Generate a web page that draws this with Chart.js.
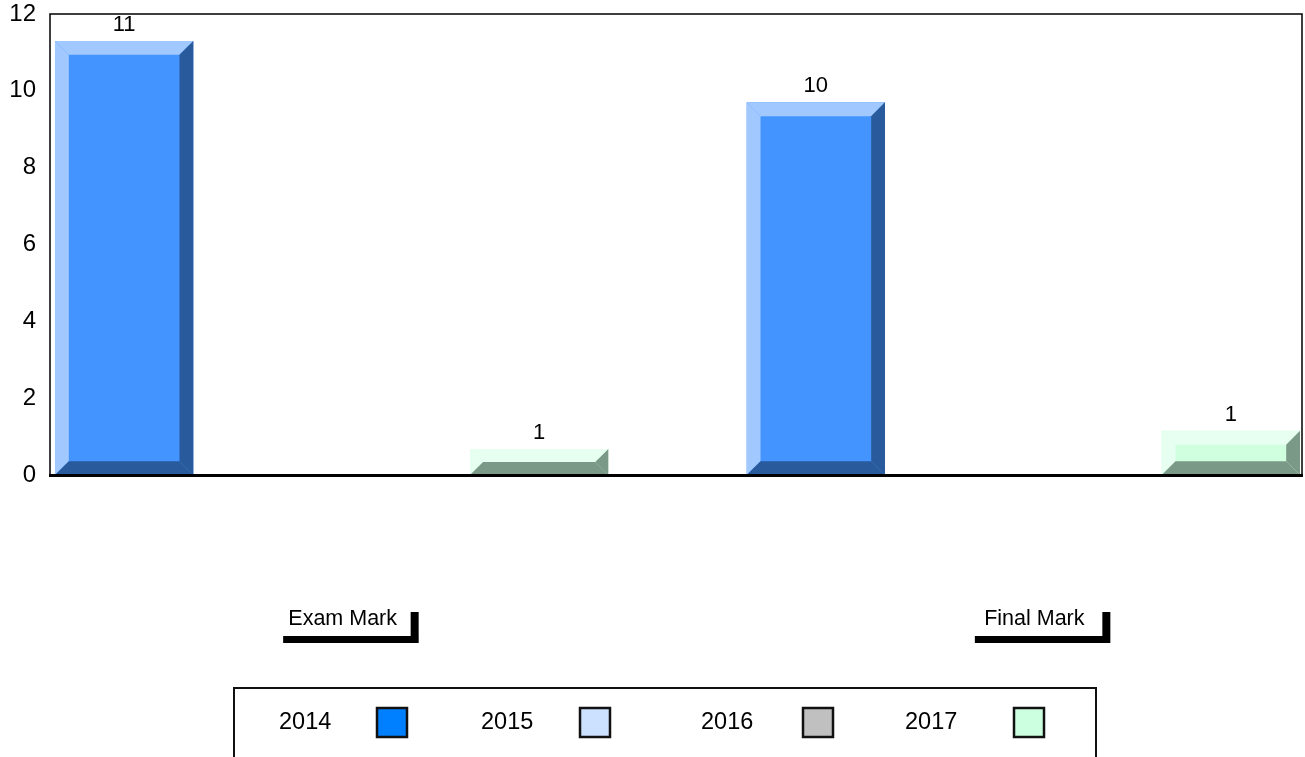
<!DOCTYPE html>
<html>
<head>
<meta charset="utf-8">
<script src="https://cdn.jsdelivr.net/npm/chart.js@4.4.0/dist/chart.umd.min.js"></script>
<style>
html, body { margin: 0; padding: 0; background: #fff; }
#wrap { width: 1305px; height: 757px; position: relative; overflow: hidden; }
</style>
</head>
<body>
<div id="wrap"><canvas id="marksChart"></canvas></div>
<script>
"use strict";

const categories = ["Exam Mark", "Final Mark"];
const years = ["2014", "2015", "2016", "2017"];
const marks2014 = [11.3, 9.7];
const marks2015 = [0, 0];
const marks2016 = [0, 0];
const marks2017 = [0.68, 1.15];
const yTicks = [0, 2, 4, 6, 8, 10, 12];

// face / light bevel / dark bevel colours per year, plus the legend swatch colour
const faceColors = ["#4494ff", "#cce0ff", "#c0c0c0", "#d0ffe0"];
const lightEdges = ["#a2c9ff", "#e6f0ff", "#e0e0e0", "#e6fff0"];
const darkEdges = ["#295b9c", "#7a8699", "#737373", "#7a9986"];
const legendColors = ["#0080ff", "#cce0ff", "#c0c0c0", "#ccffe0"];

const FONT = "'Liberation Sans', Arial, sans-serif";

function text(ctx, str, x, y, size, align) {
	ctx.save();
	ctx.font = size + "px " + FONT;
	ctx.fillStyle = "#000";
	ctx.textAlign = align;
	ctx.textBaseline = "middle";
	ctx.fillText(str, x, y);
	ctx.restore();
}

function poly(ctx, color, pts) {
	ctx.beginPath();
	ctx.moveTo(pts[0][0], pts[0][1]);
	for (let i = 1; i < pts.length; i++) ctx.lineTo(pts[i][0], pts[i][1]);
	ctx.closePath();
	ctx.fillStyle = color;
	ctx.fill();
}

// the original lays its two categories out wider than the plot frame,
// so the x scale is stretched past the canvas after layout
const wideCategories = {
	id: "wideCategories",
	afterLayout(chart) {
		const x = chart.scales.x;
		x.left = -14.2;
		x.right = 1369.2;
		x.width = x.right - x.left;
		x.configure();
	}
};

const bevelBars = {
	id: "bevelBars",
	afterDatasetsDraw(chart) {
		const ctx = chart.ctx;
		chart.data.datasets.forEach((ds, i) => {
			const meta = chart.getDatasetMeta(i);
			meta.data.forEach((bar, j) => {
				const {x, y, base, width} = bar.getProps(["x", "y", "base", "width"], true);
				const h = base - y;
				if (h <= 0) return;
				const x0 = x - width / 2, x1 = x + width / 2;
				const b = Math.min(width * 0.1, h / 2);
				poly(ctx, lightEdges[i], [[x0, y], [x1, y], [x1 - b, y + b], [x0 + b, y + b]]);
				poly(ctx, lightEdges[i], [[x0, y], [x0 + b, y + b], [x0 + b, base - b], [x0, base]]);
				poly(ctx, darkEdges[i], [[x1, y], [x1, base], [x1 - b, base - b], [x1 - b, y + b]]);
				poly(ctx, darkEdges[i], [[x0, base], [x1, base], [x1 - b, base - b], [x0 + b, base - b]]);
				text(ctx, String(Math.round(ds.data[j])), x, y - 16, 22, "center");
			});
		});
	}
};

const frameAndLabels = {
	id: "frameAndLabels",
	afterDraw(chart) {
		const ctx = chart.ctx;
		const area = chart.chartArea;
		const yScale = chart.scales.y;
		const xScale = chart.scales.x;
		const left = 50, right = 1302;

		// plot frame
		ctx.save();
		ctx.strokeStyle = "#000";
		ctx.lineWidth = 1.5;
		ctx.beginPath();
		ctx.moveTo(left, area.bottom);
		ctx.lineTo(left, area.top);
		ctx.lineTo(right, area.top);
		ctx.lineTo(right, area.bottom);
		ctx.stroke();
		ctx.lineWidth = 3;
		ctx.beginPath();
		ctx.moveTo(left - 1, area.bottom + 0.5);
		ctx.lineTo(right + 1, area.bottom + 0.5);
		ctx.stroke();
		ctx.restore();

		// y tick labels
		yTicks.forEach(v => text(ctx, String(v), 36, yScale.getPixelForValue(v), 24, "right"));

		// category labels with their bracket
		categories.forEach((c, i) => {
			const cx = xScale.getPixelForValue(i);
			text(ctx, c, cx + 11, 619, 21.5, "center");
			ctx.fillStyle = "#000";
			ctx.fillRect(cx - 48.5, 636, 135, 7);
			ctx.fillRect(cx + 79, 612, 8, 31);
		});

		// legend box
		ctx.save();
		ctx.strokeStyle = "#111";
		ctx.lineWidth = 2;
		ctx.strokeRect(234, 688, 862, 90);
		const textX = [279, 481, 701, 905];
		const boxX = [377, 580, 803, 1014];
		years.forEach((yr, i) => {
			text(ctx, yr, textX[i], 723, 23.5, "left");
			ctx.fillStyle = legendColors[i];
			ctx.fillRect(boxX[i], 708, 30, 29);
			ctx.lineWidth = 2.5;
			ctx.strokeStyle = "#111";
			ctx.strokeRect(boxX[i], 708, 30, 29);
		});
		ctx.restore();
	}
};

const seriesData = [marks2014, marks2015, marks2016, marks2017];

new Chart(document.getElementById("marksChart"), {
	type: "bar",
	data: {
		labels: categories,
		datasets: years.map((yr, i) => ({
			label: yr,
			data: seriesData[i],
			backgroundColor: faceColors[i],
			borderWidth: 0
		}))
	},
	options: {
		responsive: true,
		maintainAspectRatio: false,
		animation: false,
		events: [],
		datasets: {
			bar: { categoryPercentage: 0.8, barPercentage: 1 }
		},
		layout: {
			padding: { left: 0, right: 0, top: 14, bottom: 282 }
		},
		plugins: {
			legend: { display: false },
			tooltip: { enabled: false }
		},
		scales: {
			x: { display: false, offset: true },
			y: { display: false, min: 0, max: 12, ticks: { stepSize: 2 } }
		}
	},
	plugins: [wideCategories, bevelBars, frameAndLabels]
});
</script>
</body>
</html>
